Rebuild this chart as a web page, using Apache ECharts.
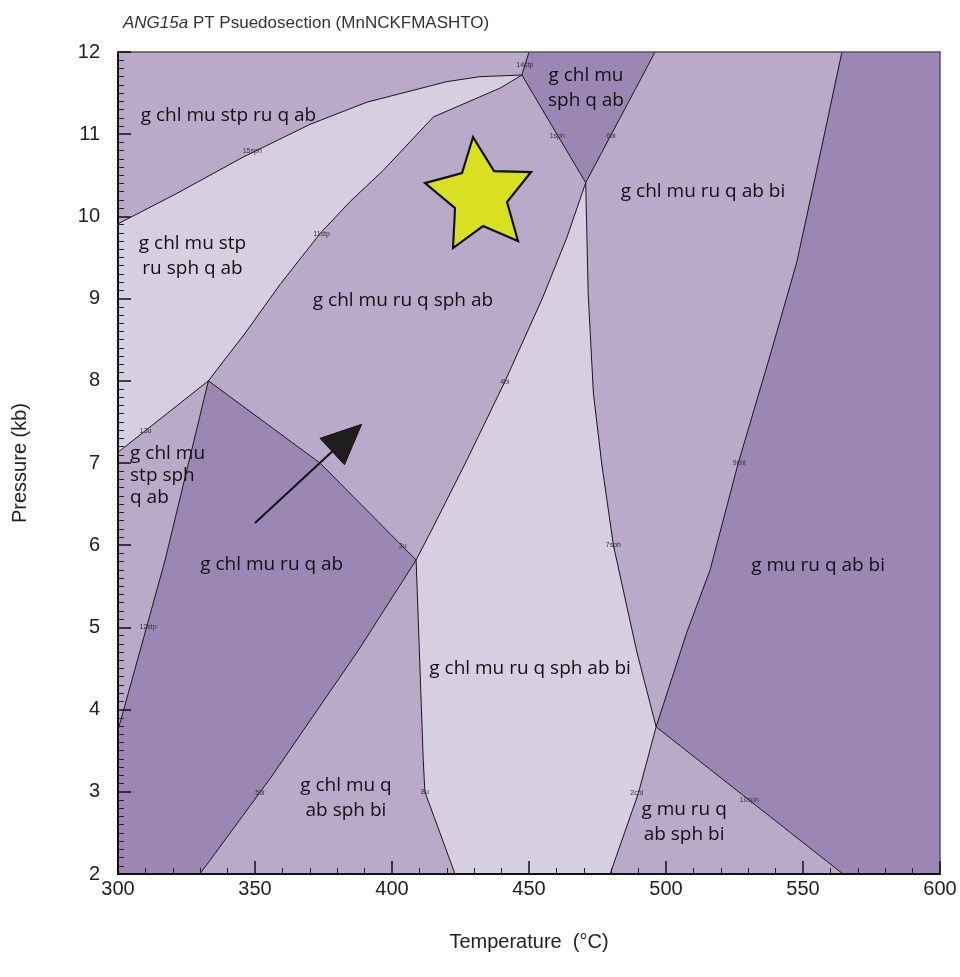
<!DOCTYPE html>
<html lang="en">
<head>
<meta charset="UTF-8">
<title>ANG15a PT Psuedosection</title>
<script src="https://cdn.jsdelivr.net/npm/echarts@6/dist/echarts.min.js"></script>
<style>html,body{margin:0;padding:0;background:#fff;}</style>
</head>
<body>
<div id="main" style="width:960px;height:977px;"></div>
<script>
// invariant points [T (°C), P (kb)]
const ptA = [447.4, 11.72];
const ptB = [333.0, 8.0];
const ptD = [408.8, 5.82];
const ptE = [470.7, 10.41];
const ptF = [496.4, 3.79];

// reaction lines
const line15sph = [[300, 9.91], [321.5, 10.28], [345.6, 10.72], [370.1, 11.12], [390.9, 11.39], [420.1, 11.64], [432.1, 11.70], ptA];
const line11stp = [ptA, [439.4, 11.56], [415.1, 11.21], [396.8, 10.56], [384.7, 10.18], [373.7, 9.79], [359.1, 9.17], [346.4, 8.58], ptB];
const line13u = [[300, 7.13], ptB];
const line12stp = [ptB, [317.2, 5.82], [310.5, 5.01], [300, 3.75]];
const line3u = [ptB, [373.7, 7.0], ptD];
const line5bi = [ptD, [387.7, 4.72], [355.5, 3.16], [329.9, 2]];
const line8u = [ptD, [411.4, 3.39], [412.0, 3.0], [423.0, 2]];
const line4bi = [ptD, [415.0, 6.22], [427.4, 7.04], [441.2, 7.99], [455.1, 9.02], [463.9, 9.75], ptE];
const line1sph = [ptA, ptE];
const line6bi = [ptE, [496.0, 12]];
const line14stp = [ptA, [450.0, 12]];
const line7sph = [ptE, [471.6, 9.06], [473.5, 7.85], [476.5, 7.0], [480.8, 6.0], [489.3, 4.71], ptF];
const line2chl = [ptF, [489.9, 2.98], [479.6, 2]];
const line10sph = [ptF, [564.6, 2]];
const line9chl = [ptF, [507.6, 4.94], [516.1, 5.70], [526.3, 6.99], [538.0, 8.31], [547.7, 9.44], [555.0, 10.56], [564.2, 12]];

// field labels
const fieldNames = [
    'g chl mu stp ru q ab',
    'g chl mu stp\nru sph q ab',
    'g chl mu ru q sph ab',
    'g chl mu\nsph q ab',
    'g chl mu ru q ab bi',
    'g chl mu\nstp sph\nq ab',
    'g chl mu ru q ab',
    'g chl mu ru q sph ab bi',
    'g chl mu q\nab sph bi',
    'g mu ru q\nab sph bi',
    'g mu ru q ab bi'
];
const fieldLabelAt = [
    [340.3, 11.23], [327.2, 9.52], [404.0, 8.98], [470.8, 11.56], [513.5, 10.30],
    [304.4, 6.85], [356.1, 5.77], [450.4, 4.50], [383.2, 2.92], [506.6, 2.63], [555.5, 5.75]
];

// reaction labels
const reactionNames = ['15sph', '14stp', '1sph', '6bi', '11stp', '13u', '4bi', '3u', '9chl', '7sph', '12stp', '5bi', '8u', '2chl', '10sph'];
const reactionLabelAt = [
    [349.0, 10.79], [448.5, 11.84], [460.3, 10.98], [479.9, 10.98], [374.3, 9.79], [310.1, 7.39],
    [441.2, 7.99], [403.9, 5.99], [526.7, 7.0], [480.8, 6.0], [311.0, 5.0], [351.8, 2.99],
    [412.0, 3.0], [489.3, 2.99], [530.4, 2.9]
];

// star and path arrow
const starAt = [431.4, 10.29];
const arrowPath = [350.0, 6.27, 388.9, 7.47];

const light = '#d6cfe1', medium = '#b9aac9', dark = '#9c87b4';

function rev(a) { return a.slice().reverse(); }

// fields built from the reaction lines
const fields = [
    { color: medium, pts: [[300, 12]].concat(rev(line14stp), rev(line15sph)) },
    { color: light, pts: line15sph.concat(line11stp, rev(line13u)) },
    { color: medium, pts: line13u.concat(line12stp) },
    { color: dark, pts: [[300, 2]].concat(rev(line5bi), rev(line3u), line12stp) },
    { color: medium, pts: line5bi.concat(rev(line8u)) },
    { color: light, pts: line8u.concat(rev(line2chl), rev(line7sph), rev(line4bi)) },
    { color: medium, pts: rev(line11stp).concat(line1sph, rev(line4bi), rev(line3u)) },
    { color: dark, pts: line14stp.concat(rev(line6bi), rev(line1sph)) },
    { color: medium, pts: line6bi.concat(rev(line9chl), rev(line7sph)) },
    { color: dark, pts: line9chl.concat([[600, 12], [600, 2]], rev(line10sph)) },
    { color: medium, pts: line2chl.concat(rev(line10sph)) }
];

const reactionLines = [line15sph, line11stp, line13u, line12stp, line3u, line5bi, line8u, line4bi,
    line1sph, line6bi, line14stp, line7sph, line2chl, line10sph, line9chl];

let myChart = echarts.init(document.getElementById('main'));

let series = [];
series.push({
    type: 'custom',
    name: 'fields',
    z: 1,
    silent: true,
    data: fields.map(f => f.pts[0]),
    renderItem: function (params, api) {
        let f = fields[params.dataIndex];
        let pts = f.pts.map(p => api.coord(p));
        return { type: 'polygon', shape: { points: pts }, style: { fill: f.color, stroke: null } };
    }
});
reactionLines.forEach(function (l) {
    series.push({
        type: 'line',
        data: l,
        z: 3,
        silent: true,
        showSymbol: false,
        symbol: 'none',
        lineStyle: { color: '#161616', width: 1 }
    });
});
series.push({
    type: 'scatter',
    name: 'reactions',
    z: 4,
    silent: true,
    symbolSize: 1,
    itemStyle: { color: 'rgba(0,0,0,0)', opacity: 1 },
    data: reactionNames.map((n, i) => ({ name: n, value: reactionLabelAt[i] })),
    label: {
        show: true, position: 'inside', formatter: '{b}',
        fontSize: 7, color: '#333', fontFamily: 'Liberation Sans'
    }
});
series.push({
    type: 'scatter',
    name: 'fieldNames',
    z: 4,
    silent: true,
    symbolSize: 1,
    itemStyle: { color: 'rgba(0,0,0,0)', opacity: 1 },
    data: fieldNames.map((n, i) => {
        let item = { name: n, value: fieldLabelAt[i] };
        if (i === 5) item.label = { align: 'left', lineHeight: 22 };
        return item;
    }),
    label: {
        show: true, position: 'inside', formatter: '{b}',
        fontSize: 19, lineHeight: 25, color: '#111', fontFamily: 'Open Sans'
    }
});
series.push({
    type: 'scatter',
    name: 'star',
    z: 5,
    silent: true,
    symbol: 'path://M473,137 L494,171 L531,172 L507,202 L518,241 L483,226 L453,248 L455,208 L425,183 L462,173 Z',
    symbolSize: [106, 111],
    itemStyle: { color: '#d9e021', borderColor: '#111', borderWidth: 2.2, opacity: 1 },
    data: [starAt]
});
series.push({
    type: 'custom',
    name: 'arrow',
    z: 5,
    silent: true,
    encode: { x: [0, 2], y: [1, 3] },
    data: [arrowPath],
    renderItem: function (params, api) {
        let p0 = api.coord([api.value(0), api.value(1)]);
        let p1 = api.coord([api.value(2), api.value(3)]);
        let dx = p1[0] - p0[0], dy = p1[1] - p0[1];
        let len = Math.sqrt(dx * dx + dy * dy);
        let ux = dx / len, uy = dy / len;
        let headLen = 40, headHalf = 18;
        let bx = p1[0] - ux * headLen, by = p1[1] - uy * headLen;
        return {
            type: 'group',
            children: [
                { type: 'line', shape: { x1: p0[0], y1: p0[1], x2: bx + ux * 4, y2: by + uy * 4 },
                  style: { stroke: '#111', lineWidth: 2 } },
                { type: 'polygon', shape: { points: [p1, [bx - uy * headHalf, by + ux * headHalf], [bx + uy * headHalf, by - ux * headHalf]] },
                  style: { fill: '#1e1e1e', stroke: '#111', lineWidth: 1 } }
            ]
        };
    }
});

let option = {
    animation: false,
    backgroundColor: '#fff',
    title: {
        left: 118, top: 10,
        text: '{i|ANG15a} PT Psuedosection (MnNCKFMASHTO)',
        textStyle: {
            fontSize: 17, fontWeight: 'normal', color: '#333', fontFamily: 'Liberation Sans',
            rich: { i: { fontStyle: 'italic', fontSize: 17, color: '#333', fontFamily: 'Liberation Sans' } }
        }
    },
    grid: { left: 118, right: 20, top: 52, bottom: 103, containLabel: false, outerBoundsMode: 'none' },
    xAxis: [{
        type: 'value', min: 300, max: 600, interval: 50, z: 10,
        name: 'Temperature  (°C)', nameLocation: 'middle', nameGap: 58,
        nameTextStyle: { fontSize: 20, color: '#222', fontFamily: 'Liberation Sans' },
        axisLine: { lineStyle: { color: '#111', width: 2 } },
        axisTick: { inside: true, length: 13, lineStyle: { color: '#111', width: 1.5 } },
        minorTick: { show: true, splitNumber: 5, length: 6, lineStyle: { color: '#222', width: 1 } },
        splitLine: { show: false },
        axisLabel: { fontSize: 20, margin: 5, color: '#222', fontFamily: 'Liberation Sans' }
    }, {
        type: 'value', position: 'top', min: 300, max: 600, z: 10,
        axisLine: { show: true, lineStyle: { color: '#555', width: 1.5 } },
        axisTick: { show: false }, axisLabel: { show: false }, splitLine: { show: false }
    }],
    yAxis: [{
        type: 'value', min: 2, max: 12, interval: 1, z: 10,
        name: 'Pressure (kb)', nameLocation: 'middle', nameGap: 88, nameRotate: 90,
        nameTextStyle: { fontSize: 20, color: '#222', fontFamily: 'Liberation Sans' },
        axisLine: { show: true, lineStyle: { color: '#111', width: 2 } },
        axisTick: { show: true, inside: true, length: 13, lineStyle: { color: '#111', width: 1.5 } },
        minorTick: { show: true, splitNumber: 10, length: 6, lineStyle: { color: '#222', width: 1 } },
        splitLine: { show: false },
        axisLabel: { fontSize: 20, margin: 18, color: '#222', fontFamily: 'Liberation Sans' }
    }, {
        type: 'value', position: 'right', min: 2, max: 12, z: 10,
        axisLine: { show: true, lineStyle: { color: '#555', width: 1.5 } },
        axisTick: { show: false }, axisLabel: { show: false }, splitLine: { show: false }
    }],
    series: series
};

myChart.setOption(option);
</script>
</body>
</html>
